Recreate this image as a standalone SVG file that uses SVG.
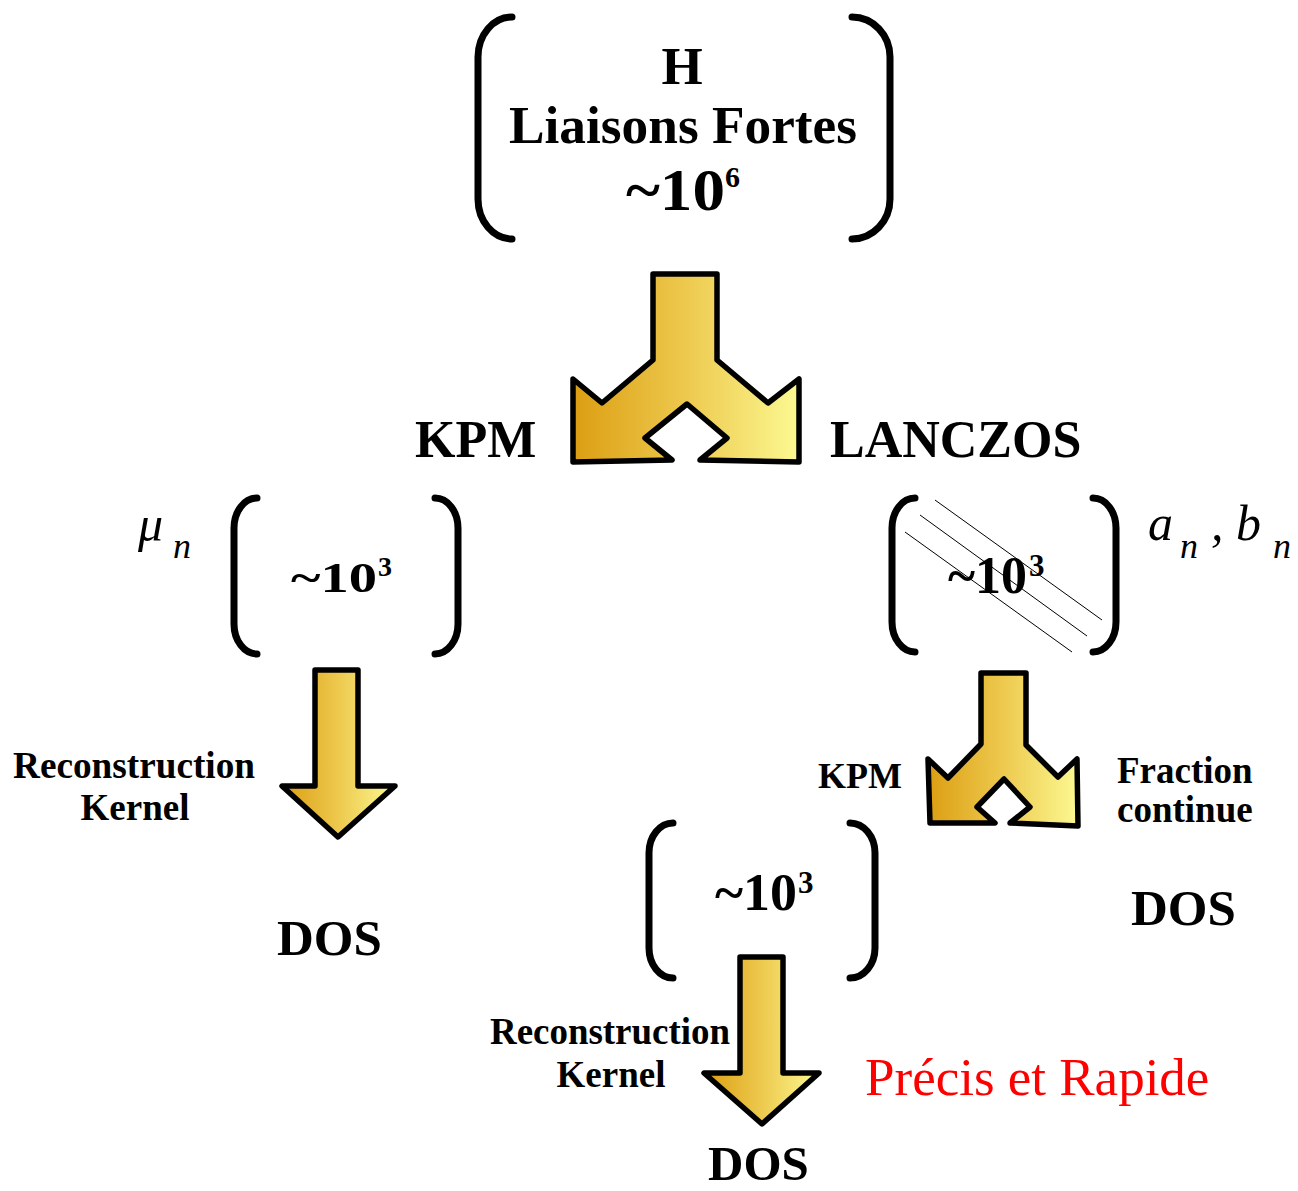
<svg xmlns="http://www.w3.org/2000/svg" width="1298" height="1191" viewBox="0 0 1298 1191">
<style>
.b{font-family:"Liberation Serif","Times New Roman",serif;font-weight:bold;fill:#000}
.i{font-family:"Liberation Serif","Times New Roman",serif;font-style:italic;fill:#000}
.br{fill:none;stroke:#000;stroke-width:7;stroke-linecap:round}
.ar{fill:url(#gold);stroke:#000;stroke-width:5.5;stroke-linejoin:round}
.dg{stroke:#000;stroke-width:1}
</style>
<defs>
<linearGradient id="gold" x1="0" y1="0" x2="1" y2="0">
<stop offset="0" stop-color="#DC9E12"/>
<stop offset="0.5" stop-color="#EDC94E"/>
<stop offset="1" stop-color="#FCF992"/>
</linearGradient>
</defs>
<rect width="1298" height="1191" fill="#fff"/>

<g id="node-H">
<path class="br" d="M512 17 A34 40 0 0 0 478 57 L478 199 A34 40 0 0 0 512 239"/>
<path class="br" d="M852 17 A38 40 0 0 1 890 57 L890 199 A38 40 0 0 1 852 239"/>
<text class="b" x="682" y="84" font-size="53" text-anchor="middle">H</text>
<text class="b" x="683" y="143" font-size="53" text-anchor="middle" textLength="348" lengthAdjust="spacingAndGlyphs">Liaisons Fortes</text>
<text class="b" x="626" y="210" font-size="60" textLength="99" lengthAdjust="spacingAndGlyphs">~10</text>
<text class="b" x="725" y="187" font-size="30">6</text>
</g>

<g id="node-KPM-matrix">
<path class="br" d="M257 498 A23 30 0 0 0 234 528 L234 624 A23 30 0 0 0 257 654"/>
<path class="br" d="M435 498 A23 30 0 0 1 458 528 L458 624 A23 30 0 0 1 435 654"/>
<text class="b" x="291" y="592" font-size="43" textLength="86" lengthAdjust="spacingAndGlyphs">~10</text>
<text class="b" x="378" y="576" font-size="28">3</text>
<text class="i" x="138" y="541" font-size="50">μ</text>
<text class="i" x="173" y="558" font-size="36">n</text>
</g>

<g id="node-LANCZOS-matrix">
<path class="br" d="M915 498 A23 30 0 0 0 892 528 L892 622 A23 30 0 0 0 915 652"/>
<path class="br" d="M1093 498 A23 30 0 0 1 1116 528 L1116 622 A23 30 0 0 1 1093 652"/>
<line class="dg" x1="935" y1="500" x2="1102" y2="620"/>
<line class="dg" x1="920" y1="515" x2="1087" y2="636"/>
<line class="dg" x1="905" y1="532" x2="1072" y2="652"/>
<text class="b" x="948" y="593" font-size="52" textLength="79" lengthAdjust="spacingAndGlyphs">~10</text>
<text class="b" x="1029" y="576" font-size="31">3</text>
<text class="i" x="1148" y="540" font-size="50">a</text>
<text class="i" x="1180" y="558" font-size="36">n</text>
<text class="i" x="1211" y="540" font-size="50">,</text>
<text class="i" x="1236" y="540" font-size="50">b</text>
<text class="i" x="1273" y="558" font-size="36">n</text>
</g>

<g id="node-bottom-matrix">
<path class="br" d="M673 823 A24 30 0 0 0 649 853 L649 948 A24 30 0 0 0 673 978"/>
<path class="br" d="M850 823 A25 30 0 0 1 875 853 L875 948 A25 30 0 0 1 850 978"/>
<text class="b" x="715" y="910" font-size="52" textLength="82" lengthAdjust="spacingAndGlyphs">~10</text>
<text class="b" x="798" y="893" font-size="31">3</text>
</g>

<g id="node-DOS-left"><text class="b" x="277" y="955" font-size="51">DOS</text></g>
<g id="node-DOS-right"><text class="b" x="1131" y="925" font-size="51">DOS</text></g>
<g id="node-DOS-bottom"><text class="b" x="708" y="1180" font-size="49">DOS</text></g>
<g id="note"><text x="865" y="1095" font-size="53" fill="#FF0000" font-family="Liberation Serif, Times New Roman, serif">Précis et Rapide</text></g>

<g id="connectors">
<polygon class="ar" points="653,274 717,274 717,360 768,403 799,379 799,462 700,460 727,438 687,404 645,438 672,460 573,462 573,379 602,403 653,360"/>
<text class="b" x="415" y="457" font-size="52">KPM</text>
<text class="b" x="830" y="457" font-size="52">LANCZOS</text>

<polygon class="ar" points="315,670 358,670 358,786 395,786 338,837 282,786 315,786"/>
<text class="b" x="134" y="778" font-size="37" text-anchor="middle" textLength="242" lengthAdjust="spacingAndGlyphs">Reconstruction</text>
<text class="b" x="135" y="820" font-size="37" text-anchor="middle">Kernel</text>

<polygon class="ar" points="981,673 1026,673 1026,745 1058,777 1077,759 1078,826 1010,823 1030,807 1004,779 977,807 995,823 930,823 928,759 948,778 981,744"/>
<text class="b" x="818" y="788" font-size="36">KPM</text>
<text class="b" x="1117" y="783" font-size="37">Fraction</text>
<text class="b" x="1117" y="822" font-size="37">continue</text>

<polygon class="ar" points="740,957 783,957 783,1073 819,1073 762,1124 704,1073 740,1073"/>
<text class="b" x="610" y="1044" font-size="37" text-anchor="middle" textLength="240" lengthAdjust="spacingAndGlyphs">Reconstruction</text>
<text class="b" x="611" y="1087" font-size="37" text-anchor="middle">Kernel</text>
</g>
</svg>
